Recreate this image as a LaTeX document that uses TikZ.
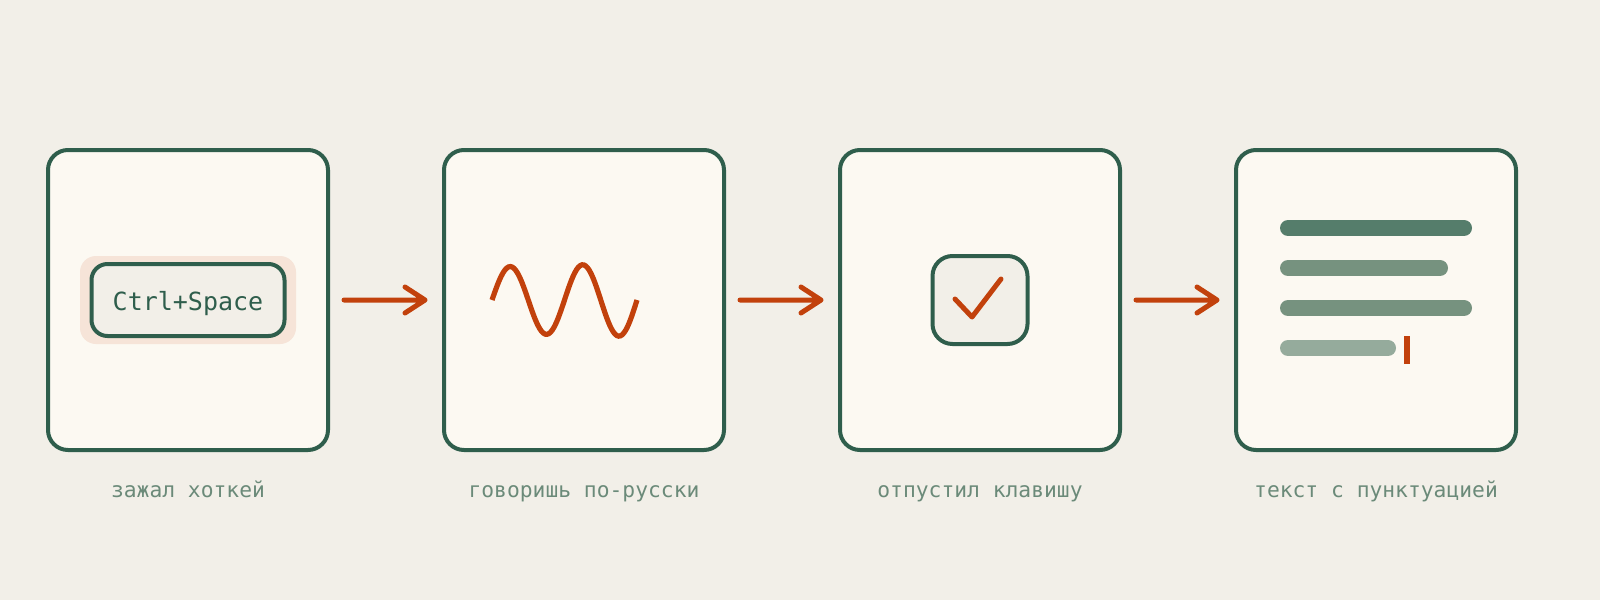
\documentclass[tikz,border=0pt]{standalone}
\usepackage{fontspec}
\newfontfamily\monof{DejaVu Sans Mono}
\usetikzlibrary{calc}
\definecolor{bg}{HTML}{F2EFE8}
\definecolor{card}{HTML}{FCF9F2}
\definecolor{dgreen}{HTML}{2F5E4C}
\definecolor{accent}{HTML}{C2410C}
\definecolor{peach}{HTML}{F6E4D8}
\definecolor{lbl}{HTML}{6B8A79}
\definecolor{lineA}{HTML}{557D6B}
\definecolor{lineB}{HTML}{76927F}
\definecolor{lineC}{HTML}{95AB9C}
\tikzset{
  card/.style={draw=dgreen, line width=4pt, fill=card, rounded corners=20pt,
    minimum width=280pt, minimum height=300pt, inner sep=0pt},
  lab/.style={text=lbl, font=\monof\fontsize{21.3}{25}\selectfont, anchor=base, inner sep=0pt},
  arr/.style={draw=accent, line width=5pt, line cap=round, line join=round},
  tline/.style={line width=16pt, line cap=round},
}
\begin{document}
\begin{tikzpicture}[x=1pt, y=-1pt]
\fill[bg] (0,0) rectangle (1600,600);
\useasboundingbox (0,0) rectangle (1600,600);

% cards
\node[card] (b1) at (188,300) {};
\node[card] (b2) at (584,300) {};
\node[card] (b3) at (980,300) {};
\node[card] (b4) at (1376,300) {};

% card 1: key
\node[fill=peach, rounded corners=16pt, minimum width=216pt, minimum height=88pt, inner sep=0pt] (glow) at (188,300) {};
\node[draw=dgreen, fill=bg, line width=4pt, rounded corners=16pt, minimum width=193pt, minimum height=72pt, inner sep=0pt] (key) at (188,300) {};
\node[text=dgreen, font=\monof\fontsize{25}{30}\selectfont, text height=18.2pt, text depth=0pt, inner sep=0pt] (keytxt) at (188,301) {Ctrl+Space};

% card 2: wave
\draw[accent, line width=5.2pt, line cap=butt] plot[smooth, domain=0:145, samples=80]
  ({492+\x},{300 - (33+0.025*\x)*sin(\x*4.9655)});

% card 3: checkbox
\node[draw=dgreen, fill=bg, line width=4pt, rounded corners=20pt, minimum width=95pt, minimum height=88pt, inner sep=0pt] (chk) at (980,300) {};
\draw[accent, line width=5pt, line cap=round, line join=round]
  ($(chk.center)+(-25,-1)$) -- ($(chk.center)+(-8,17)$) -- ($(chk.center)+(21,-21)$);

% card 4: text lines
\draw[tline, lineA] (1288,228) -- (1464,228);
\draw[tline, lineB] (1288,268) -- (1440,268);
\draw[tline, lineB] (1288,308) -- (1464,308);
\draw[tline, lineC] (1288,348) -- (1388,348);
\fill[accent] (1404,336) rectangle (1410,364);

% arrows
\draw[arr] ([xshift=14pt]b1.east) -- ([xshift=-17pt]b2.west) coordinate (t1) -- ++(-20,-13) (t1) -- ++(-20,13);
\draw[arr] ([xshift=14pt]b2.east) -- ([xshift=-17pt]b3.west) coordinate (t2) -- ++(-20,-13) (t2) -- ++(-20,13);
\draw[arr] ([xshift=14pt]b3.east) -- ([xshift=-17pt]b4.west) coordinate (t3) -- ++(-20,-13) (t3) -- ++(-20,13);

% labels
\node[lab] (l1) at (188,497) {зажал хоткей};
\node[lab] (l2) at (584,497) {говоришь по-русски};
\node[lab] (l3) at (980,497) {отпустил клавишу};
\node[lab] (l4) at (1376,497) {текст с пунктуацией};
\end{tikzpicture}
\end{document}
